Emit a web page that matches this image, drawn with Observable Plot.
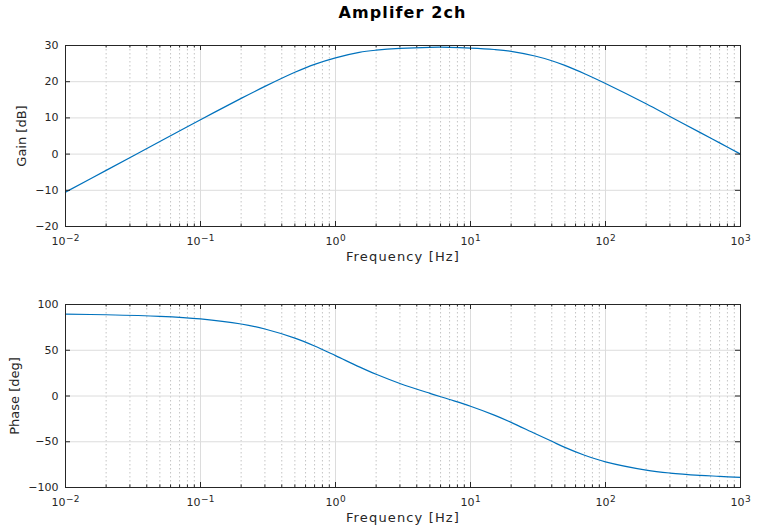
<!DOCTYPE html>
<html>
<head>
<meta charset="utf-8">
<script src="https://cdn.jsdelivr.net/npm/d3@7"></script>
<script src="https://cdn.jsdelivr.net/npm/@observablehq/plot@0.6"></script>
<style>
  html, body { margin: 0; padding: 0; background: #fff; }
  #title { height: 30px; width: 758px; position: relative; font-family: "DejaVu Sans", sans-serif; }
  #title span { position: absolute; left: 65px; width: 675px; top: 4.5px; line-height: 16px; text-align: center; font-weight: bold; font-size: 16px; letter-spacing: 1.1px; color: #000; }
  svg { display: block; }
  g[font-size="13.01"] text { letter-spacing: 1.15px; }
</style>
</head>
<body>
<div id="title"><span>Amplifer 2ch</span></div>
<div id="top"></div>
<div id="bottom"></div>
<script>
// ---- data ----
const freqHz = [0.01, 0.02, 0.05, 0.1, 0.2, 0.3, 0.5, 0.7, 1, 1.5, 2, 3, 5, 7, 10, 15, 20, 30, 40, 50, 70, 100, 200, 300, 500, 700, 1000];
const gainDb = [-10.5, -4.5, 3.5, 9.5, 15.4, 18.7, 22.6, 24.8, 26.6, 28.1, 28.7, 29.2, 29.5, 29.5, 29.3, 28.9, 28.4, 27.1, 25.8, 24.5, 22.2, 19.5, 13.9, 10.4, 6.0, 3.1, 0.0];
const phaseDeg = [89.4, 88.8, 87.1, 84.3, 78.7, 73.2, 63.2, 54.6, 44.1, 31.8, 23.7, 13.7, 2.9, -3.8, -11.2, -20.9, -28.8, -41.0, -49.5, -56.2, -64.8, -72.0, -81.0, -84.2, -86.7, -87.8, -89.0];

const decadeTicks = [0.01, 0.1, 1, 10, 100, 1000];
const decadeExponents = ["−2", "−1", "0", "1", "2", "3"];
const gainTicks = [-20, -10, 0, 10, 20, 30];
const phaseTicks = [-100, -50, 0, 50, 100];
const xLabel = "Frequency [Hz]";
const gainLabel = "Gain [dB]";
const phaseLabel = "Phase [deg]";

const minorTicks = decadeTicks.slice(0, -1).flatMap(d => [2, 3, 4, 5, 6, 7, 8, 9].map(k => k * d));

const FONT = '"DejaVu Sans", sans-serif';
const AXC = "#262626";
const W = 758, ML = 65, MR = 18;

const ctx = document.createElement("canvas").getContext("2d");
function measure(s, size) { ctx.font = `${size}px "DejaVu Sans"`; return ctx.measureText(s).width; }

function decadeLabels() {
  return decadeTicks.flatMap((d, i) => {
    const exp = decadeExponents[i];
    const w10 = measure("10", 11), we = measure(exp, 9);
    const total = w10 + we + 0.5;
    return [
      Plot.text([d], {x: v => v, text: () => "10", frameAnchor: "bottom", textAnchor: "start", dx: -total / 2, dy: 18.5, fill: AXC, fontSize: 11}),
      Plot.text([d], {x: v => v, text: () => exp, frameAnchor: "bottom", textAnchor: "start", dx: -total / 2 + w10 + 0.5, dy: 14, fill: AXC, fontSize: 9})
    ];
  });
}

function panel({values, yTicks, yLabel, yLabelDx, height, marginTop, marginBottom}) {
  const innerH = height - marginTop - marginBottom;
  const innerW = W - ML - MR;
  const rows = freqHz.map((f, i) => ({f, v: values[i]}));
  const yDomain = [yTicks[0], yTicks[yTicks.length - 1]];
  return Plot.plot({
    width: W, height, marginLeft: ML, marginRight: MR, marginTop, marginBottom,
    style: {fontFamily: FONT, fontSize: "11px", color: AXC, background: "#fff"},
    x: {type: "log", domain: [decadeTicks[0], decadeTicks[decadeTicks.length - 1]], axis: null},
    y: {domain: yDomain, axis: null},
    marks: [
      Plot.ruleX(minorTicks, {x: d => d, stroke: "#c4c4c4", strokeDasharray: "1.5,2.5"}),
      Plot.ruleX(decadeTicks, {x: d => d, stroke: "#dcdcdc"}),
      Plot.ruleY(yTicks, {y: d => d, stroke: "#dcdcdc"}),
      Plot.line(rows, {x: "f", y: "v", stroke: "#0072BD", strokeWidth: 1.2, curve: "catmull-rom"}),
      // inward ticks
      Plot.tickX(decadeTicks, {x: d => d, insetTop: innerH - 5, stroke: AXC}),
      Plot.tickX(decadeTicks, {x: d => d, insetBottom: innerH - 5, stroke: AXC}),
      Plot.tickX(minorTicks, {x: d => d, insetTop: innerH - 2.5, stroke: AXC}),
      Plot.tickX(minorTicks, {x: d => d, insetBottom: innerH - 2.5, stroke: AXC}),
      Plot.tickY(yTicks, {y: d => d, insetRight: innerW - 5, stroke: AXC}),
      Plot.tickY(yTicks, {y: d => d, insetLeft: innerW - 5, stroke: AXC}),
      Plot.frame({stroke: AXC}),
      // y tick labels
      Plot.text(yTicks, {y: d => d, text: d => d3.format("d")(d).replace("-", "−"), frameAnchor: "left", textAnchor: "end", dx: -7, fill: AXC, fontSize: 11}),
      // x tick labels: 10 with raised exponent
      ...decadeLabels(),
      // axis titles
      Plot.text([xLabel], {text: d => d, frameAnchor: "bottom", textAnchor: "middle", dy: 34.8, fill: AXC, fontSize: 13.01}),
      Plot.text([yLabel], {text: d => d, frameAnchor: "left", textAnchor: "middle", dx: yLabelDx, rotate: -90, fill: AXC, fontSize: 13})
    ]
  });
}

document.getElementById("top").append(panel({values: gainDb, yTicks: gainTicks, yLabel: gainLabel, yLabelDx: -44, height: 260, marginTop: 15, marginBottom: 64}));
document.getElementById("bottom").append(panel({values: phaseDeg, yTicks: phaseTicks, yLabel: phaseLabel, yLabelDx: -51, height: 240, marginTop: 14, marginBottom: 43}));
</script>
</body>
</html>
